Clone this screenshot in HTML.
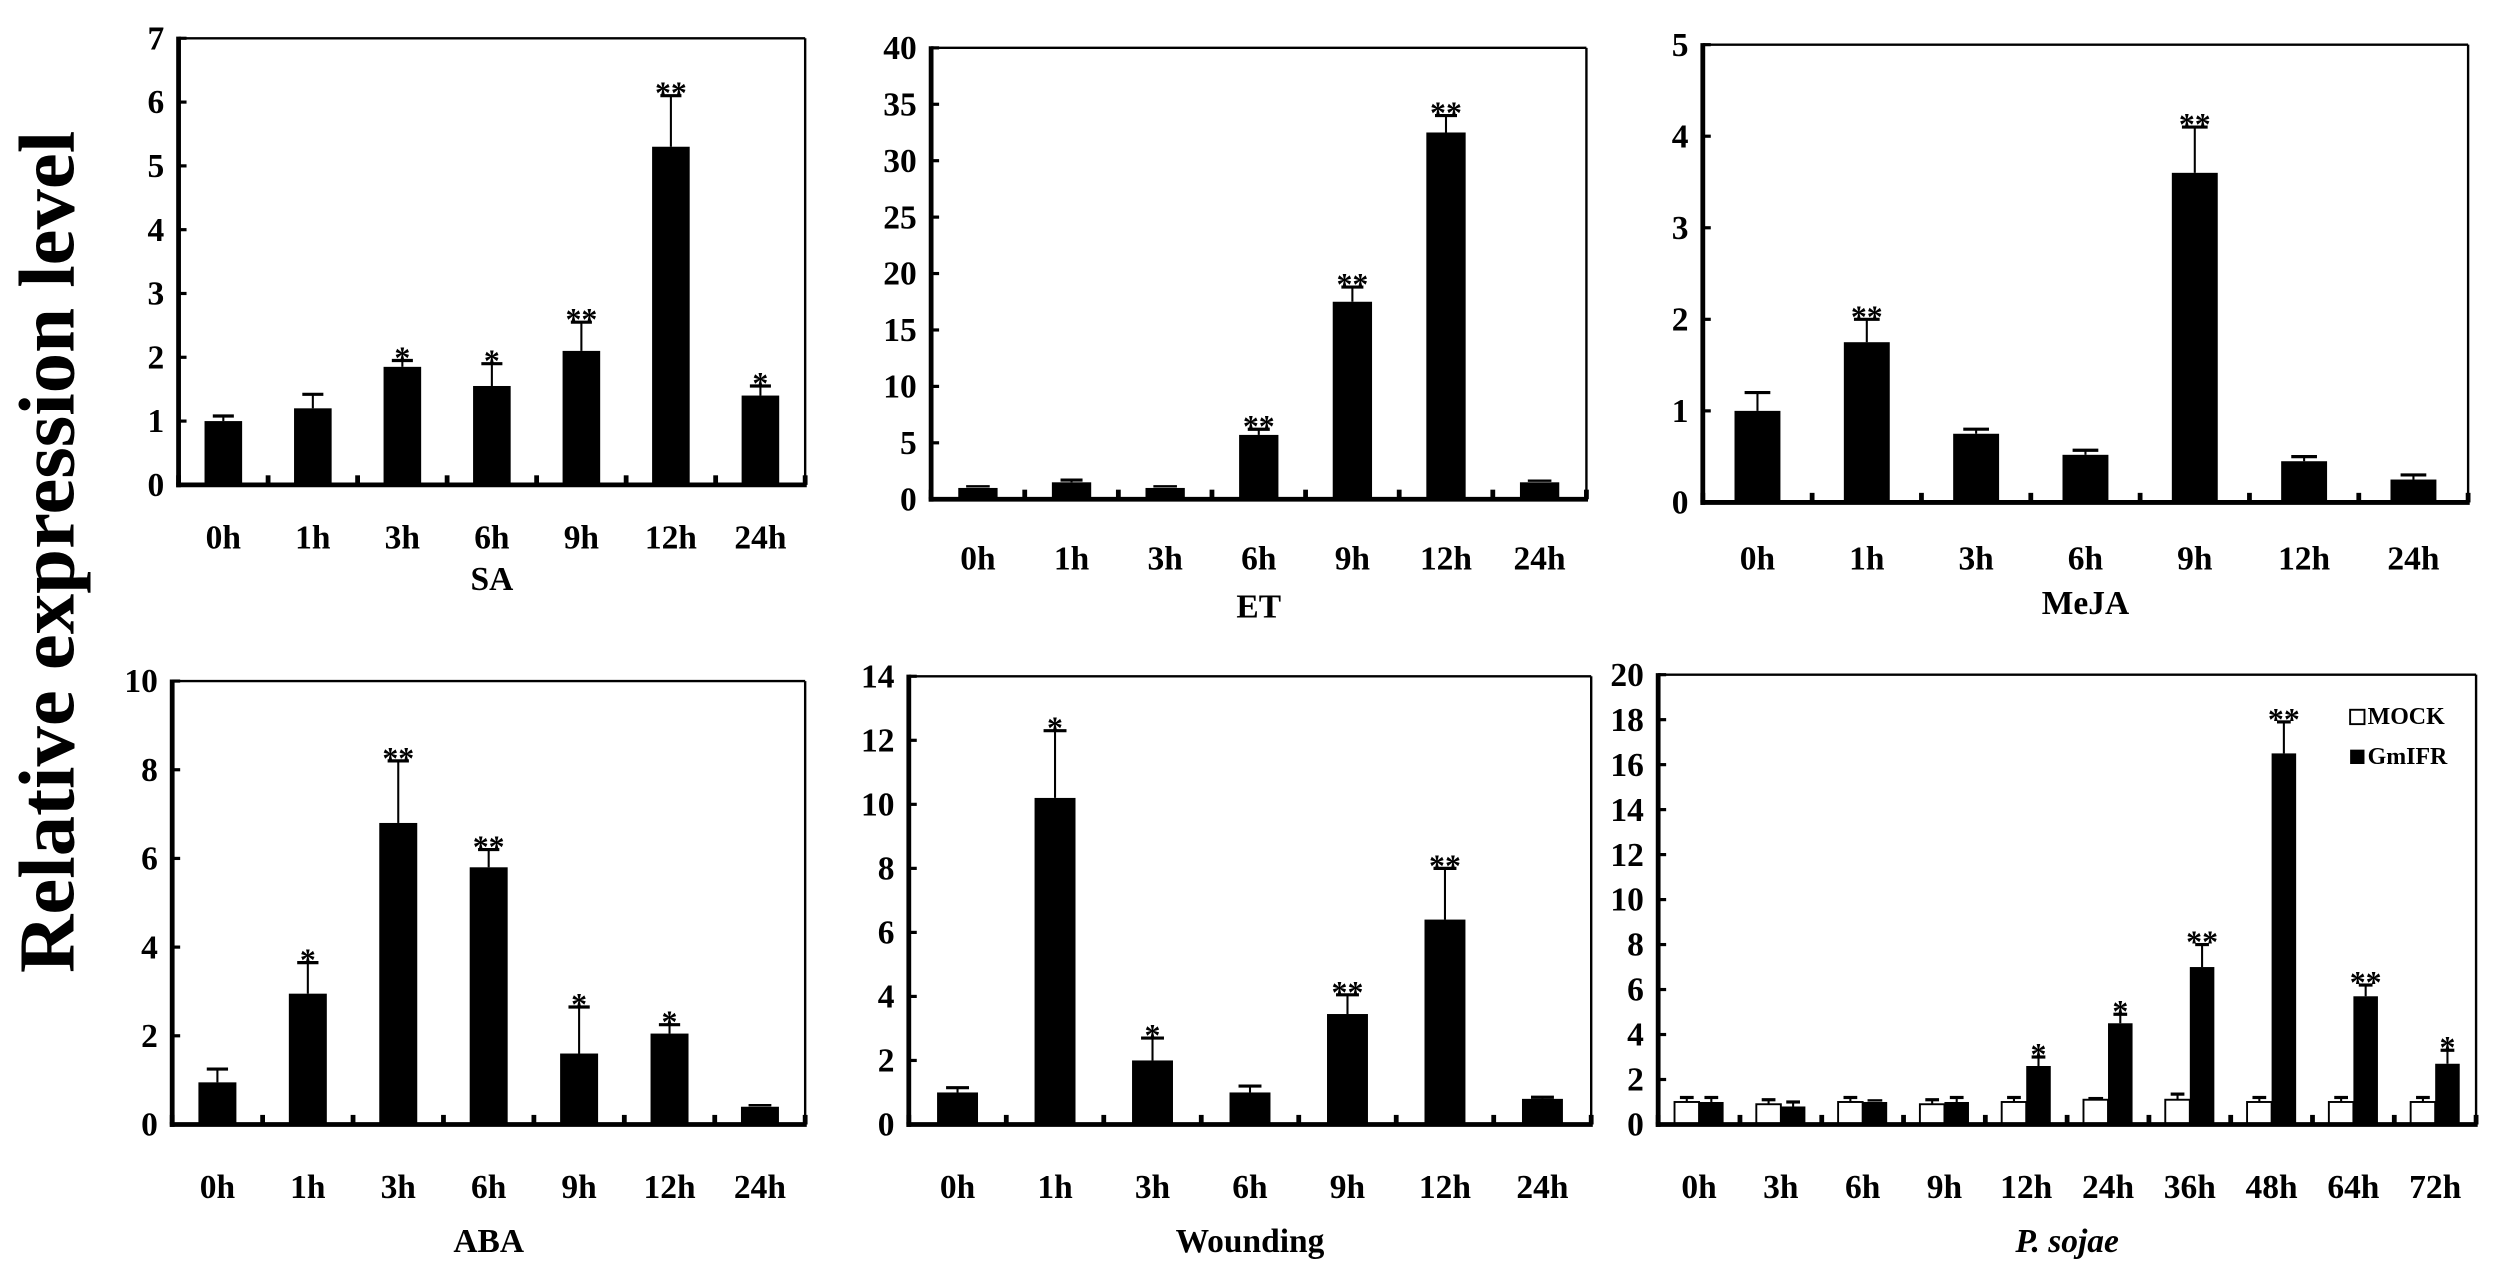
<!DOCTYPE html>
<html><head><meta charset="utf-8"><style>
html,body{margin:0;padding:0;background:#fff;}
svg{display:block;}
text{font-family:"Liberation Serif",serif;font-weight:bold;fill:#000;}
.yt,.xt{font-size:21px;}
.ti{font-size:21px;}
.st{font-size:20px;}
</style></head><body>
<svg id="s" width="2500" height="1276" viewBox="0 0 1568 800" preserveAspectRatio="none" xmlns="http://www.w3.org/2000/svg">
<rect width="1568" height="800" fill="#fff"/>
<text x="30" y="346" transform="rotate(-90 30 346)" text-anchor="middle" style="font-size:50px" textLength="528" lengthAdjust="spacingAndGlyphs" dy="16">Relative expression level</text>
<g id="p0">
<text class="yt">0</text><text class="yt">1</text><text class="yt">2</text><text class="yt">3</text><text class="yt">4</text><text class="yt">5</text><text class="yt">6</text><text class="yt">7</text>
<text class="xt">0h</text><text class="xt">1h</text><text class="xt">3h</text><text class="xt">6h</text><text class="xt">9h</text><text class="xt">12h</text><text class="xt">24h</text>
<text class="ti">SA</text>
<text class="st">*</text><text class="st">*</text><text class="st">**</text><text class="st">**</text><text class="st">*</text>
</g>
<g id="p1">
<text class="yt">0</text><text class="yt">5</text><text class="yt">10</text><text class="yt">15</text><text class="yt">20</text><text class="yt">25</text><text class="yt">30</text><text class="yt">35</text><text class="yt">40</text>
<text class="xt">0h</text><text class="xt">1h</text><text class="xt">3h</text><text class="xt">6h</text><text class="xt">9h</text><text class="xt">12h</text><text class="xt">24h</text>
<text class="ti">ET</text>
<text class="st">**</text><text class="st">**</text><text class="st">**</text>
</g>
<g id="p2">
<text class="yt">0</text><text class="yt">1</text><text class="yt">2</text><text class="yt">3</text><text class="yt">4</text><text class="yt">5</text>
<text class="xt">0h</text><text class="xt">1h</text><text class="xt">3h</text><text class="xt">6h</text><text class="xt">9h</text><text class="xt">12h</text><text class="xt">24h</text>
<text class="ti">MeJA</text>
<text class="st">**</text><text class="st">**</text>
</g>
<g id="p3">
<text class="yt">0</text><text class="yt">2</text><text class="yt">4</text><text class="yt">6</text><text class="yt">8</text><text class="yt">10</text>
<text class="xt">0h</text><text class="xt">1h</text><text class="xt">3h</text><text class="xt">6h</text><text class="xt">9h</text><text class="xt">12h</text><text class="xt">24h</text>
<text class="ti">ABA</text>
<text class="st">*</text><text class="st">**</text><text class="st">**</text><text class="st">*</text><text class="st">*</text>
</g>
<g id="p4">
<text class="yt">0</text><text class="yt">2</text><text class="yt">4</text><text class="yt">6</text><text class="yt">8</text><text class="yt">10</text><text class="yt">12</text><text class="yt">14</text>
<text class="xt">0h</text><text class="xt">1h</text><text class="xt">3h</text><text class="xt">6h</text><text class="xt">9h</text><text class="xt">12h</text><text class="xt">24h</text>
<text class="ti">Wounding</text>
<text class="st">*</text><text class="st">*</text><text class="st">**</text><text class="st">**</text>
</g>
<g id="p5">
<text class="yt">0</text><text class="yt">2</text><text class="yt">4</text><text class="yt">6</text><text class="yt">8</text><text class="yt">10</text><text class="yt">12</text><text class="yt">14</text><text class="yt">16</text><text class="yt">18</text><text class="yt">20</text>
<text class="xt">0h</text><text class="xt">3h</text><text class="xt">6h</text><text class="xt">9h</text><text class="xt">12h</text><text class="xt">24h</text><text class="xt">36h</text><text class="xt">48h</text><text class="xt">64h</text><text class="xt">72h</text>
<text class="ti" style="font-style:italic">P. sojae</text>
<text class="st">*</text><text class="st">*</text><text class="st">**</text><text class="st">**</text><text class="st">**</text><text class="st">*</text>
<rect x="1474" y="445" width="9" height="9" fill="#fff" stroke="#000" stroke-width="1.2"/>
<text x="1485" y="454" style="font-size:15px">MOCK</text>
<rect x="1474" y="470" width="9" height="9" fill="#000"/>
<text x="1485" y="479" style="font-size:15px">GmIFR</text>
</g>
</svg>
<script>
var NS="http://www.w3.org/2000/svg";
var P=[
{box:[112,24,505,304],max:7,step:1,xo:40,to:66,v:[1,1.2,1.85,1.55,2.1,5.3,1.4],e:[.08,.22,.1,.35,.45,.8,.15],s:[0,0,1,1,1,1,1]},
{box:[584,30,995,313],max:40,step:5,xo:44,to:74,v:[1,1.5,1,5.7,17.5,32.5,1.5],e:[0,.2,0,.5,1.3,1.5,0],s:[0,0,0,1,1,1,0]},
{box:[1068,28,1548,315],max:5,step:1,xo:42,to:70,v:[1,1.75,.75,.52,3.6,.45,.25],e:[.2,.25,.05,.05,.5,.05,.05],s:[0,1,0,0,1,0,0]},
{box:[108,427,505,705],max:10,step:2,xo:46,to:80,v:[.95,2.95,6.8,5.8,1.6,2.05,.4],e:[.3,.7,1.4,.4,1.05,.2,0],s:[0,1,1,1,1,1,0]},
{box:[570,424,998,705],max:14,step:2,xo:46,to:80,v:[1,10.2,2,1,3.45,6.4,.8],e:[.15,2.1,.7,.2,.6,1.6,.05],s:[0,1,1,0,1,1,0]},
{box:[1040,423,1553,705],max:20,step:2,xo:46,to:80,pair:1,m:[1,.9,1,.9,1,1.1,1.1,1,1,1],me:[.2,.2,.2,.2,.2,0,.25,.2,.2,.2],
 v:[1,.8,1,1,2.6,4.5,7,16.5,5.7,2.7],e:[.2,.2,0,.2,.4,.4,1,1.4,.5,.6],s:[0,0,0,0,1,1,1,1,1,1]}
];
P.forEach(function(p,i){
 var g=document.getElementById("p"+i),l=p.box[0],t=p.box[1],r=p.box[2],b=p.box[3];
 var Y=function(v){return b-(b-t)*v/p.max;};
 var n=p.v.length,w=(r-l)/n;
 g.querySelectorAll(".yt").forEach(function(tx,k){tx.setAttribute("x",l-9);tx.setAttribute("y",Y(k*p.step)+7);tx.setAttribute("text-anchor","end");});
 g.querySelectorAll(".xt").forEach(function(tx,k){tx.setAttribute("x",l+w*(k+.5));tx.setAttribute("y",b+p.xo);tx.setAttribute("text-anchor","middle");});
 var ti=g.querySelector(".ti");ti.setAttribute("x",(l+r)/2);ti.setAttribute("y",b+p.to);ti.setAttribute("text-anchor","middle");
 var st=g.querySelectorAll(".st"),si=0;
 var shapes=document.createElementNS(NS,"g");g.insertBefore(shapes,g.firstChild);
 function add(n,a){var e=document.createElementNS(NS,n);for(var k in a)e.setAttribute(k,a[k]);shapes.appendChild(e);}
 function bar(x,bw,v,e,fill){
  var y=Y(v);add("rect",{x:x,y:y,width:bw,height:b-y,fill:fill,stroke:"#000","stroke-width":fill=="#fff"?1.2:0});
  if(e>0){var ye=Y(v+e),cx=x+bw/2;add("line",{x1:cx,y1:y,x2:cx,y2:ye,stroke:"#000","stroke-width":1.3});
   add("line",{x1:cx-bw*0.28,y1:ye,x2:cx+bw*0.28,y2:ye,stroke:"#000","stroke-width":2});}
  else{add("line",{x1:x+bw*0.2,y1:y-1,x2:x+bw*0.8,y2:y-1,stroke:"#000","stroke-width":1.5});}
  return Y(v+e);
 }
 for(var k=0;k<n;k++){
  var cx=l+w*(k+.5),top,sx;
  if(p.pair){var bw=w*0.3;bar(cx-bw,bw,p.m[k],p.me[k],"#fff");top=bar(cx,bw,p.v[k],p.e[k],"#000");sx=cx+bw/2;}
  else{var bw=w*0.42;top=bar(cx-bw/2,bw,p.v[k],p.e[k],"#000");sx=cx;}
  if(p.s[k]){var s=st[si++];s.setAttribute("x",sx);s.setAttribute("y",top+5);s.setAttribute("text-anchor","middle");}
 }
 add("line",{x1:l,y1:t,x2:r,y2:t,stroke:"#000","stroke-width":1.5});
 add("line",{x1:r,y1:t,x2:r,y2:b,stroke:"#000","stroke-width":1.5});
 add("line",{x1:l,y1:t-1,x2:l,y2:b+1.5,stroke:"#000","stroke-width":3});
 add("line",{x1:l-1.5,y1:b,x2:r+1,y2:b,stroke:"#000","stroke-width":3});
 for(var k=0;k<=n;k++){var x=l+w*k;add("line",{x1:x,y1:b,x2:x,y2:b-6,stroke:"#000","stroke-width":3});}
 for(var k=0;k*p.step<=p.max;k++){add("line",{x1:l,y1:Y(k*p.step),x2:l+5,y2:Y(k*p.step),stroke:"#000","stroke-width":2});}
});
</script>
</body></html>
